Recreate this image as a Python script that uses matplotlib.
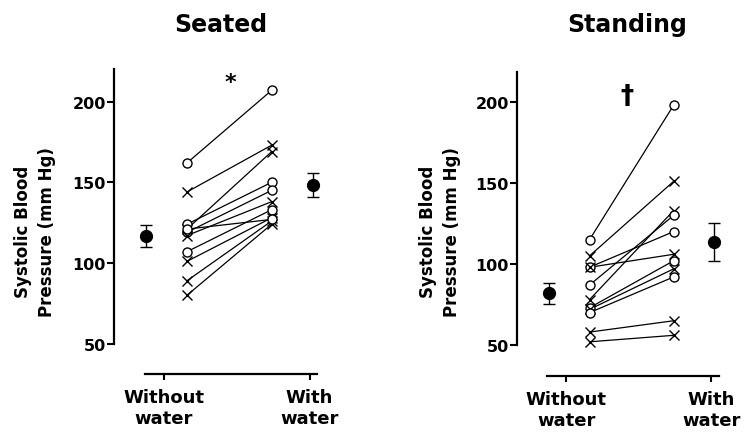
import matplotlib
matplotlib.use('Agg')
import matplotlib.pyplot as plt

# ---------------- data ----------------
conditions = ['Without\nwater', 'With\nwater']
y_ticks = [50, 100, 150, 200]
panel_titles = ['Seated', 'Standing']
panel_marks = ['*', '\u2020']

seated_without = [162, 144, 121, 124, 119, 117, 107, 101, 89, 80, 121]
seated_with = [207, 173, 169, 150, 145, 138, 133, 128, 126, 124, 127]
seated_markers = ['o', 'x', 'x', 'o', 'o', 'x', 'o', 'x', 'x', 'x', 'o']
seated_mean = [116.7, 148.3]
seated_sem = [7.0, 7.7]

standing_without = [115, 105, 78, 87, 98, 98, 73, 72, 70, 58, 52]
standing_with = [198, 151, 133, 130, 120, 106, 102, 97, 92, 65, 56]
standing_markers = ['o', 'x', 'x', 'o', 'o', 'x', 'o', 'x', 'o', 'x', 'x']
standing_mean = [82.0, 113.6]
standing_sem = [6.5, 11.8]

# ---------------- figure ----------------
W, H = 747, 439
fig = plt.figure(figsize=(W / 100, H / 100), dpi=100)
plt.rcParams['font.family'] = ['DejaVu Sans']

# positions (style)
X_IND = [0.16, 0.74]
X_MEAN = [-0.12, 1.02]
XLIM = (-0.34, 1.10)

def px_axes(left, bottom, right, top):
    return [left / W, 1 - bottom / H, (right - left) / W, (bottom - top) / H]

panels = [
    dict(rect=px_axes(114, 375, 114 + 1.44 * 146, 70), ylim=(31.2, 220.2),
         wo=seated_without, wi=seated_with, mk=seated_markers,
         mean=seated_mean, sem=seated_sem, mark_xy=(0.46, 212),
         title_x=221, ylabel_x=35),
    dict(rect=px_axes(517, 377, 517 + 1.44 * 145, 73), ylim=(30.9, 218.5),
         wo=standing_without, wi=standing_with, mk=standing_markers,
         mean=standing_mean, sem=standing_sem, mark_xy=(0.42, 203.5),
         title_x=627, ylabel_x=440),
]

for i, p in enumerate(panels):
    ax = fig.add_axes(p['rect'])
    ax.set_xlim(*XLIM)
    ax.set_ylim(*p['ylim'])
    for a, b, m in zip(p['wo'], p['wi'], p['mk']):
        ax.plot(X_IND, [a, b], color='black', lw=0.9, zorder=2)
        if m == 'o':
            ax.plot(X_IND, [a, b], ls='none', marker='o', ms=6.5,
                    mfc='white', mec='black', mew=1.0, zorder=3)
        else:
            ax.plot(X_IND, [a, b], ls='none', marker='x', ms=6.5,
                    mec='black', mew=1.0, zorder=3)
    ax.errorbar(X_MEAN, p['mean'], yerr=p['sem'], fmt='o', ms=8.5,
                color='black', ecolor='black', elinewidth=1.0,
                capsize=4.5, capthick=1.0, zorder=4)

    ax.spines['top'].set_visible(False)
    ax.spines['right'].set_visible(False)
    ax.spines['left'].set_linewidth(1.6)
    ax.spines['bottom'].set_linewidth(1.6)
    ax.spines['left'].set_bounds(50, p['ylim'][1])
    ax.spines['bottom'].set_bounds(-0.13, 1.05)

    ax.set_yticks(y_ticks)
    ax.set_yticklabels([str(t) for t in y_ticks], fontsize=11.5,
                       fontweight='bold')
    ax.tick_params(axis='y', direction='out', length=5, width=1.5, pad=1)
    ax.set_xticks([0, 1])
    ax.set_xticklabels(conditions, fontsize=13, fontweight='bold',
                       linespacing=1.25)
    ax.tick_params(axis='x', direction='out', length=4, width=1.5, pad=6)

    ax.text(p['mark_xy'][0], p['mark_xy'][1], panel_marks[i],
            fontsize=16 if i == 0 else 19, fontweight='bold',
            ha='center', va='center')

    fig.text(p['title_x'] / W, 1 - 25 / H, panel_titles[i], fontsize=17,
             fontweight='bold', ha='center', va='center')
    fig.text(p['ylabel_x'] / W, 1 - 232 / H,
             'Systolic Blood\nPressure (mm Hg)', rotation=90, fontsize=12,
             fontweight='bold', ha='center', va='center', linespacing=1.45,
             multialignment='center')

fig.savefig('out.png', dpi=100, facecolor='white')
